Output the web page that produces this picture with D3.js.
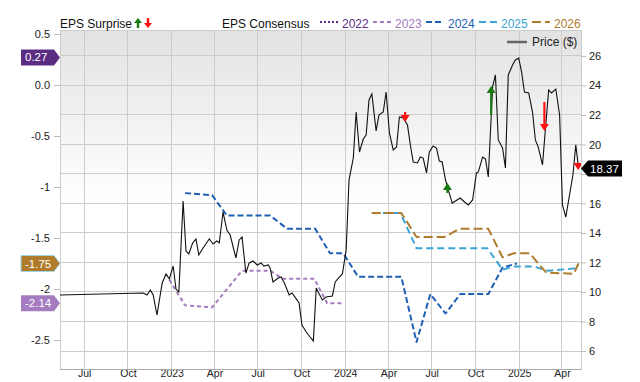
<!DOCTYPE html>
<html>
<head>
<meta charset="utf-8">
<script src="https://cdn.jsdelivr.net/npm/d3@7"></script>
<style>
  body { margin: 0; background: #fff; }
  svg { display: block; font-family: "Liberation Sans", Arial, sans-serif; }
</style>
</head>
<body>
<svg id="chart" width="640" height="382"></svg>
<script>
// ── Price ($), right axis ────────────────────────────────────────────────────
const priceDates = [
  '2022-05-11','2022-11-02','2022-11-10','2022-11-17','2022-11-23','2022-12-01','2022-12-12','2022-12-20',
  '2022-12-27','2023-01-04','2023-01-10','2023-01-16','2023-01-25','2023-01-31','2023-02-06','2023-02-14',
  '2023-02-21','2023-02-27','2023-03-08','2023-03-21','2023-03-29','2023-04-06','2023-04-11','2023-04-19',
  '2023-04-27','2023-05-04','2023-05-16','2023-05-23','2023-05-29','2023-06-06','2023-06-13','2023-06-21',
  '2023-06-30','2023-07-08','2023-07-14','2023-07-23','2023-07-27','2023-08-02','2023-08-13','2023-08-19',
  '2023-08-26','2023-09-05','2023-09-11','2023-09-20','2023-09-26','2023-10-02','2023-10-11','2023-10-19',
  '2023-10-26','2023-11-01','2023-11-05','2023-11-14','2023-11-22','2023-12-05','2023-12-11','2023-12-20',
  '2023-12-26','2024-01-03','2024-01-09','2024-01-18','2024-01-24','2024-01-31','2024-02-08','2024-02-14',
  '2024-02-20','2024-02-26','2024-03-06','2024-03-12','2024-03-21','2024-03-27','2024-04-03','2024-04-11',
  '2024-04-18','2024-04-24','2024-05-02','2024-05-11','2024-05-17','2024-05-23','2024-06-01','2024-06-07',
  '2024-06-13','2024-06-20','2024-06-26','2024-07-04','2024-07-11','2024-07-17','2024-07-23','2024-07-30',
  '2024-08-05','2024-08-13','2024-08-30','2024-09-08','2024-09-16','2024-09-25','2024-10-03','2024-10-07',
  '2024-10-16','2024-10-22','2024-10-28','2024-11-06','2024-11-12','2024-11-18','2024-11-27','2024-12-03',
  '2024-12-09','2024-12-18','2024-12-24','2024-12-31','2025-01-06','2025-01-12','2025-01-21','2025-01-29',
  '2025-02-04','2025-02-10','2025-02-19','2025-02-25','2025-03-04','2025-03-10','2025-03-19','2025-03-27',
  '2025-04-02','2025-04-09','2025-04-24','2025-04-30','2025-05-06'
];
const priceValues = [
  9.80, 9.93, 9.80, 10.14, 9.80, 8.44, 10.61, 11.22,
  10.88, 11.76, 10.20, 10.00, 16.17, 12.78, 12.58, 13.32,
  13.59, 12.51, 12.98, 13.59, 13.25, 13.46, 13.32, 15.42,
  14.20, 13.86, 12.31, 13.53, 13.73, 11.29, 11.97, 12.10,
  11.83, 11.97, 11.76, 11.83, 11.63, 10.68, 10.95, 11.02,
  10.61, 9.80, 9.93, 9.53, 9.25, 7.76, 7.29, 6.95,
  6.68, 10.27, 10.00, 9.46, 9.66, 9.73, 10.68, 11.02,
  11.22, 12.85, 17.59, 19.08, 22.20, 19.49, 20.37, 20.64,
  23.02, 23.42, 20.92, 22.00, 22.20, 23.56, 20.78, 19.63,
  19.83, 21.86, 21.80, 21.32, 19.97, 18.81, 18.75, 19.15,
  19.08, 18.07, 19.49, 19.90, 19.76, 18.88, 18.81, 17.59,
  16.92, 16.03, 16.37, 16.10, 15.90, 16.24, 18.07, 18.14,
  19.15, 19.02, 17.80, 23.90, 24.71, 20.31, 19.76, 18.41,
  24.71, 25.39, 25.73, 25.86, 24.92, 23.56, 23.49, 22.20,
  20.31, 19.83, 18.61, 20.98, 23.69, 23.49, 23.76, 22.00,
  15.90, 15.08, 17.93, 19.97, 18.37
];

// ── EPS consensus per fiscal year, left axis ────────────────────────────────
const cons2023Dates  = ['2022-12-27','2023-01-29','2023-03-27','2023-05-29','2023-07-27','2023-08-23','2023-10-28','2023-11-24','2023-12-28'];
const cons2023Values = [-1.91, -2.16, -2.18, -1.82, -1.82, -1.90, -1.90, -2.14, -2.14];

const cons2024Dates  = ['2023-01-29','2023-03-27','2023-04-27','2023-07-27','2023-09-01','2023-10-30','2023-11-30','2023-12-28',
                        '2024-01-28','2024-04-28','2024-05-30','2024-06-28','2024-07-30','2024-08-30','2024-10-28','2024-11-27','2024-12-27'];
const cons2024Values = [-1.06, -1.08, -1.28, -1.28, -1.41, -1.41, -1.65, -1.65,
                        -1.88, -1.88, -2.52, -2.05, -2.24, -2.05, -2.05, -1.79, -1.75];

const cons2025Dates  = ['2024-02-26','2024-04-26','2024-05-30','2024-10-26','2024-11-27','2024-12-20','2025-02-01','2025-03-02','2025-04-26','2025-05-06'];
const cons2025Values = [-1.255, -1.255, -1.60, -1.60, -1.81, -1.78, -1.78, -1.82, -1.80, -1.76];

const cons2026Dates  = ['2024-02-26','2024-04-28','2024-05-30','2024-07-28','2024-08-28','2024-10-28','2024-11-27','2024-12-20','2025-01-23','2025-02-27','2025-04-26','2025-05-06'];
const cons2026Values = [-1.255, -1.255, -1.49, -1.49, -1.41, -1.41, -1.69, -1.65, -1.65, -1.84, -1.85, -1.745];

const legendYears  = ['2022', '2023', '2024', '2025', '2026'];
const yearColors   = ['#5a2d82', '#a57cbf', '#1f5fb4', '#3ba4d6', '#b07c2c'];
const yearDashes   = ['2,2', '4,3', '6,3', '7,4', '9,4'];

// last-value tags on the left axis
const tagYears  = ['2022', '2026', '2023'];
const tagValues = [0.27, -1.75, -2.14];

// ── EPS surprises (earnings dates), drawn on the price line ─────────────────
const surpriseDates = ['2024-05-06', '2024-08-03', '2024-11-03', '2025-02-23', '2025-05-05'];
const surpriseFrom  = [22.20, 16.71, 22.00, 22.88, 18.75];
const surpriseTo    = [21.53, 17.39, 23.97, 20.92, 18.27];

const xTicks = ['2022-07-01','2022-10-01','2023-01-01','2023-04-01','2023-07-01','2023-10-01',
                '2024-01-01','2024-04-01','2024-07-01','2024-10-01','2025-01-01','2025-04-01'];
const leftTicks  = [0.5, 0, -0.5, -1, -1.5, -2, -2.5];
const rightTicks = [26, 24, 22, 20, 18, 16, 14, 12, 10, 8, 6];

const parse = d3.timeParse('%Y-%m-%d');

const svg = d3.select('#chart');
const L = 60, R = 581, T = 30, B = 369;

const x = d3.scaleTime().domain([parse('2022-05-11'), parse('2025-05-11')]).range([L, R]);
const yL = d3.scaleLinear().domain([-2.784, 0.539]).range([B, T]);
const yR = d3.scaleLinear().domain([4.78, 27.76]).range([B, T]);

const lastPrice = priceValues[priceValues.length - 1];

// background gradient
const defs = svg.append('defs');
const grad = defs.append('linearGradient').attr('id', 'bg').attr('x1', 0).attr('y1', 0).attr('x2', 0).attr('y2', 1);
grad.append('stop').attr('offset', '0%').attr('stop-color', '#e2e2e2');
grad.append('stop').attr('offset', '50%').attr('stop-color', '#ffffff');
grad.append('stop').attr('offset', '100%').attr('stop-color', '#ffffff');
defs.append('clipPath').attr('id', 'clip').append('rect')
  .attr('x', L).attr('y', T).attr('width', R - L).attr('height', B - T);

svg.append('rect').attr('x', L).attr('y', T).attr('width', R - L).attr('height', B - T).attr('fill', 'url(#bg)');

// gridlines
const grid = svg.append('g').attr('stroke', '#cccccc').attr('stroke-width', 1).attr('shape-rendering', 'crispEdges');
xTicks.forEach(t => grid.append('line').attr('x1', x(parse(t))).attr('x2', x(parse(t))).attr('y1', T).attr('y2', B));
rightTicks.forEach(t => grid.append('line').attr('x1', L).attr('x2', R).attr('y1', yR(t)).attr('y2', yR(t)));
grid.append('rect').attr('x', L).attr('y', T).attr('width', R - L).attr('height', B - T).attr('fill', 'none');

// axes
const axL = svg.append('g').attr('transform', `translate(${L},0)`)
  .call(d3.axisLeft(yL).tickValues(leftTicks).tickSize(6).tickPadding(4)
    .tickFormat(v => v === 0 ? '0.0' : (Number.isInteger(v) ? String(v) : v.toFixed(1))));
// the price tag covers the tick label nearest the last price
const axR = svg.append('g').attr('transform', `translate(${R},0)`)
  .call(d3.axisRight(yR).tickValues(rightTicks).tickSize(5).tickPadding(3)
    .tickFormat(v => Math.abs(v - lastPrice) < 1 ? '' : v));
const axB = svg.append('g').attr('transform', `translate(0,${B})`)
  .call(d3.axisBottom(x).tickValues(xTicks.map(parse)).tickSize(0).tickPadding(1)
    .tickFormat(d => d.getMonth() === 0 ? d3.timeFormat('%Y')(d) : d3.timeFormat('%b')(d)));
[axL, axR, axB].forEach(a => {
  a.select('.domain').remove();
  a.selectAll('line').attr('stroke', '#bbbbbb');
  a.selectAll('text').attr('fill', '#222').attr('font-size', 11)
    .attr('font-family', '"Liberation Sans", Arial, sans-serif');
});
axB.selectAll('text').attr('font-size', 10.5);
svg.append('line').attr('x1', L).attr('x2', R).attr('y1', B).attr('y2', B)
  .attr('stroke', '#aaaaaa').attr('shape-rendering', 'crispEdges');

const plot = svg.append('g').attr('clip-path', 'url(#clip)');

// consensus lines
const consSeries = [
  { year: '2023', dates: cons2023Dates, values: cons2023Values },
  { year: '2024', dates: cons2024Dates, values: cons2024Values },
  { year: '2025', dates: cons2025Dates, values: cons2025Values },
  { year: '2026', dates: cons2026Dates, values: cons2026Values },
];
const consLine = d3.line().x(d => x(d[0])).y(d => yL(d[1]));
consSeries.forEach(s => {
  const i = legendYears.indexOf(s.year);
  plot.append('path')
    .datum(s.dates.map((d, k) => [parse(d), s.values[k]]))
    .attr('d', consLine)
    .attr('fill', 'none').attr('stroke', yearColors[i]).attr('stroke-width', 2)
    .attr('stroke-linejoin', 'round')
    .attr('stroke-dasharray', yearDashes[i]);
});

// price line
const priceLine = d3.line().x(d => x(d[0])).y(d => yR(d[1]));
plot.append('path')
  .datum(priceDates.map((d, k) => [parse(d), priceValues[k]]))
  .attr('d', priceLine)
  .attr('fill', 'none').attr('stroke', '#111').attr('stroke-width', 1.1);

// surprise arrows
surpriseDates.forEach((d, k) => {
  const cx = x(parse(d));
  const y1 = yR(surpriseFrom[k]), y2 = yR(surpriseTo[k]);
  const up = y2 < y1;
  const col = up ? '#1a7a12' : '#ff1010';
  const head = 7, hw = 4.5;
  const dir = up ? 1 : -1; // head base is below tip for up arrows
  const base = y2 + dir * head;
  if (Math.abs(y1 - base) > 0.5 && (up ? y1 > base : y1 < base)) {
    plot.append('line').attr('x1', cx).attr('x2', cx).attr('y1', y1).attr('y2', base)
      .attr('stroke', col).attr('stroke-width', 2.2);
  }
  plot.append('path')
    .attr('d', `M${cx},${y2}L${cx - hw},${base}L${cx + hw},${base}Z`)
    .attr('fill', col);
});

// price legend inside plot
svg.append('line').attr('x1', 507).attr('x2', 527).attr('y1', 42).attr('y2', 42)
  .attr('stroke', '#666').attr('stroke-width', 2.5);
svg.append('text').attr('x', 532).attr('y', 46).attr('font-size', 12).attr('fill', '#222').text('Price ($)');

// top legend
const legendG = svg.append('g').attr('font-size', 12);
legendG.append('text').attr('x', 60).attr('y', 27.5).attr('fill', '#111').text('EPS Surprise');
legendG.append('path').attr('d', 'M138,18 L134,23 L136.8,23 L136.8,28 L139.2,28 L139.2,23 L142,23 Z').attr('fill', '#1a7a12');
legendG.append('path').attr('d', 'M148,28 L144,23 L146.8,23 L146.8,18 L149.2,18 L149.2,23 L152,23 Z').attr('fill', '#ff1010');
legendG.append('text').attr('x', 222).attr('y', 27.5).attr('fill', '#111').text('EPS Consensus');
let lx = 320;
legendYears.forEach((yr, i) => {
  legendG.append('line').attr('x1', lx).attr('x2', lx + 18).attr('y1', 22).attr('y2', 22)
    .attr('stroke', yearColors[i]).attr('stroke-width', 2.2).attr('stroke-dasharray', yearDashes[i]);
  legendG.append('text').attr('x', lx + 22).attr('y', 27.5).attr('fill', yearColors[i]).text(yr);
  lx += 53;
});

// left value tags
tagYears.forEach((yr, k) => {
  const cy = yL(tagValues[k]);
  const col = yearColors[legendYears.indexOf(yr)];
  const x0 = 21, tip = 60;
  svg.append('path')
    .attr('d', `M${x0},${cy - 8}L${tip - 6},${cy - 8}L${tip},${cy}L${tip - 6},${cy + 8}L${x0},${cy + 8}Z`)
    .attr('fill', col).attr('stroke', yr === '2026' ? '#9fd3e8' : 'none').attr('stroke-width', 1);
  svg.append('text').attr('x', 25).attr('y', cy + 4).attr('font-size', 11.5).attr('fill', '#fff')
    .text(tagValues[k].toFixed(2));
});

// right price tag
const py = yR(lastPrice);
svg.append('path')
  .attr('d', `M${R},${py}L${R + 7},${py - 8}L622,${py - 8}L622,${py + 8}L${R + 7},${py + 8}Z`)
  .attr('fill', '#000');
svg.append('text').attr('x', 590).attr('y', py + 4).attr('font-size', 11.5).attr('fill', '#fff')
  .text(lastPrice.toFixed(2));
</script>
</body>
</html>
